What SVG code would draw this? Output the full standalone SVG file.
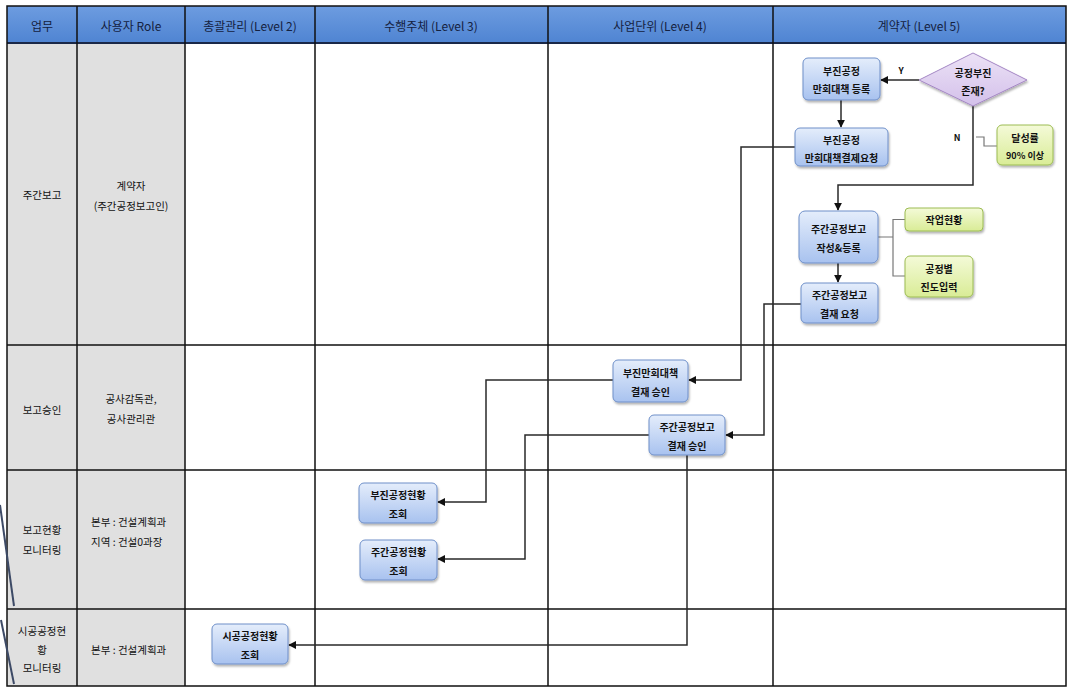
<svg xmlns="http://www.w3.org/2000/svg" width="1068" height="687" viewBox="0 0 1068 687">
<style>
text{font-family:"Noto Sans CJK KR","Noto Sans",sans-serif;fill:#111;}
.hd{font-size:12px;fill:#14213f;text-anchor:middle;dominant-baseline:central;}
.rh{font-size:10.5px;text-anchor:middle;dominant-baseline:central;}
.rl{font-size:10.5px;dominant-baseline:central;}
.nt{font-size:10px;font-weight:bold;text-anchor:middle;dominant-baseline:central;}
.lb{font-size:9px;font-weight:bold;text-anchor:middle;dominant-baseline:central;}
.grid{stroke:#111;stroke-width:1.5;fill:none;}
.node{fill:url(#gb);stroke:#6e8fc9;stroke-width:1;filter:url(#sh);}
.gnode{fill:url(#gg);stroke:#9cbc52;stroke-width:1;filter:url(#sh);}
.dia{fill:url(#gp);stroke:#a487c4;stroke-width:1;filter:url(#sh);}
.con{stroke:#2a2a2a;stroke-width:1.5;fill:none;marker-end:url(#ar);}
.brk{stroke:#777;stroke-width:1.2;fill:none;}
</style>
<defs>
<linearGradient id="gb" x1="0" y1="0" x2="0" y2="1"><stop offset="0" stop-color="#e4edfb"/><stop offset="1" stop-color="#a8c2ef"/></linearGradient>
<linearGradient id="gg" x1="0" y1="0" x2="0" y2="1"><stop offset="0" stop-color="#f4fad8"/><stop offset="1" stop-color="#d9ec96"/></linearGradient>
<linearGradient id="gp" x1="0" y1="0" x2="0" y2="1"><stop offset="0" stop-color="#ece2f6"/><stop offset="1" stop-color="#d3c0ea"/></linearGradient>
<linearGradient id="gh" x1="0" y1="0" x2="0" y2="1"><stop offset="0" stop-color="#6d9ce0"/><stop offset="1" stop-color="#4f84d2"/></linearGradient>
<filter id="sh" x="-20%" y="-20%" width="140%" height="150%"><feDropShadow dx="1" dy="2" stdDeviation="1.2" flood-color="#000" flood-opacity="0.3"/></filter>
<marker id="ar" viewBox="0 0 10 10" refX="9" refY="5" markerWidth="8" markerHeight="8" orient="auto" markerUnits="userSpaceOnUse"><path d="M0,0 L10,5 L0,10 z" fill="#111"/></marker>
</defs>
<rect width="1068" height="687" fill="#fff"/>
<g id="table">
<rect x="7" y="6" width="1059" height="37" fill="url(#gh)"/>
<rect x="7" y="43" width="178" height="643" fill="#e0e0e0"/>
<line x1="7" y1="43" x2="1066" y2="43" stroke="#1a2848" stroke-width="2"/>
<path class="grid" d="M7,6 H1066 V686 H7 Z M77,6 V686 M185,6 V686 M315,6 V686 M548,6 V686 M773,6 V686 M7,345 H1066 M7,470 H1066 M7,609 H1066"/>
<text class="hd" x="42" y="25">업무</text>
<text class="hd" x="131" y="25">사용자 Role</text>
<text class="hd" x="250" y="25">총괄관리 (Level 2)</text>
<text class="hd" x="431" y="25">수행주체 (Level 3)</text>
<text class="hd" x="660" y="25">사업단위 (Level 4)</text>
<text class="hd" x="919" y="25">계약자 (Level 5)</text>
<text class="rh" x="42" y="194">주간보고</text>
<text class="rh" x="131" y="185">계약자</text>
<text class="rh" x="131" y="205">(주간공정보고인)</text>
<text class="rh" x="42" y="409">보고승인</text>
<text class="rh" x="131" y="398">공사감독관,</text>
<text class="rh" x="131" y="418">공사관리관</text>
<text class="rh" x="42" y="529">보고현황</text>
<text class="rh" x="42" y="549">모니터링</text>
<text class="rl" x="91" y="521">본부 : 건설계획과</text>
<text class="rl" x="91" y="541">지역 : 건설0과장</text>
<text class="rh" x="42" y="630">시공공정현</text>
<text class="rh" x="42" y="649">황</text>
<text class="rh" x="42" y="667">모니터링</text>
<text class="rl" x="91" y="649">본부 : 건설계획과</text>
</g>
<g id="scan-lines" stroke="#3d4a66" stroke-width="2" fill="none">
<line x1="0" y1="505" x2="14" y2="606"/>
<line x1="1" y1="620" x2="14" y2="684"/>
</g>
<g id="connectors">
<path class="con" d="M919,80 H881"/>
<path class="con" d="M841,100 V127"/>
<path class="con" d="M973,106 V185 H838 V210"/>
<path class="con" d="M838,263 V282"/>
<path class="con" d="M795,147 H741 V380 H689"/>
<path class="con" d="M801,304 H764 V435 H726"/>
<path class="con" d="M613,380 H486 V502 H438"/>
<path class="con" d="M649,435 H525 V559 H438"/>
<path class="con" d="M687,455 V645 H289"/>
<path class="brk" d="M976,137 H984 V146 H997"/>
<path class="brk" d="M878,237 H893 M905,219.5 H893 V276 H905"/>
<text class="lb" x="901" y="70">Y</text>
<text class="lb" x="957" y="137">N</text>
</g>
<g id="n1"><rect class="node" x="803" y="58" width="77" height="42" rx="5"/><text class="nt" x="841.5" y="70">부진공정</text><text class="nt" x="841.5" y="88">만회대책 등록</text></g>
<g id="d1"><polygon class="dia" points="919,80 973,53 1027,80 973,106"/><text class="nt" x="973" y="72">공정부진</text><text class="nt" x="973" y="90">존재?</text></g>
<g id="n2"><rect class="node" x="795" y="128" width="93" height="38" rx="5"/><text class="nt" x="841.5" y="139">부진공정</text><text class="nt" x="841.5" y="157">만회대책결제요청</text></g>
<g id="g1"><rect class="gnode" x="997" y="125" width="56" height="40" rx="5"/><text class="nt" x="1025" y="137">달성률</text><text class="nt" x="1025" y="155" style="font-size:9px">90% 이상</text></g>
<g id="n3"><rect class="node" x="799" y="211" width="79" height="52" rx="6"/><text class="nt" x="838.5" y="228">주간공정보고</text><text class="nt" x="838.5" y="247">작성&amp;등록</text></g>
<g id="g2"><rect class="gnode" x="905" y="208" width="78" height="23" rx="4"/><text class="nt" x="944" y="219.5">작업현황</text></g>
<g id="g3"><rect class="gnode" x="905" y="256" width="68" height="41" rx="5"/><text class="nt" x="939" y="268">공정별</text><text class="nt" x="939" y="286">진도입력</text></g>
<g id="n4"><rect class="node" x="801" y="283" width="77" height="40" rx="5"/><text class="nt" x="839.5" y="294">주간공정보고</text><text class="nt" x="839.5" y="313">결재 요청</text></g>
<g id="n5"><rect class="node" x="613" y="360" width="75" height="42" rx="5"/><text class="nt" x="650.5" y="372">부진만회대책</text><text class="nt" x="650.5" y="391">결재 승인</text></g>
<g id="n6"><rect class="node" x="649" y="415" width="76" height="40" rx="5"/><text class="nt" x="687" y="426">주간공정보고</text><text class="nt" x="687" y="445">결재 승인</text></g>
<g id="n7"><rect class="node" x="359" y="483" width="78" height="40" rx="5"/><text class="nt" x="398" y="494">부진공정현황</text><text class="nt" x="398" y="513">조회</text></g>
<g id="n8"><rect class="node" x="360" y="540" width="77" height="40" rx="5"/><text class="nt" x="398.5" y="551">주간공정현황</text><text class="nt" x="398.5" y="570">조회</text></g>
<g id="n9"><rect class="node" x="212" y="624" width="76" height="40" rx="5"/><text class="nt" x="250" y="635">시공공정현황</text><text class="nt" x="250" y="654">조회</text></g>
</svg>
